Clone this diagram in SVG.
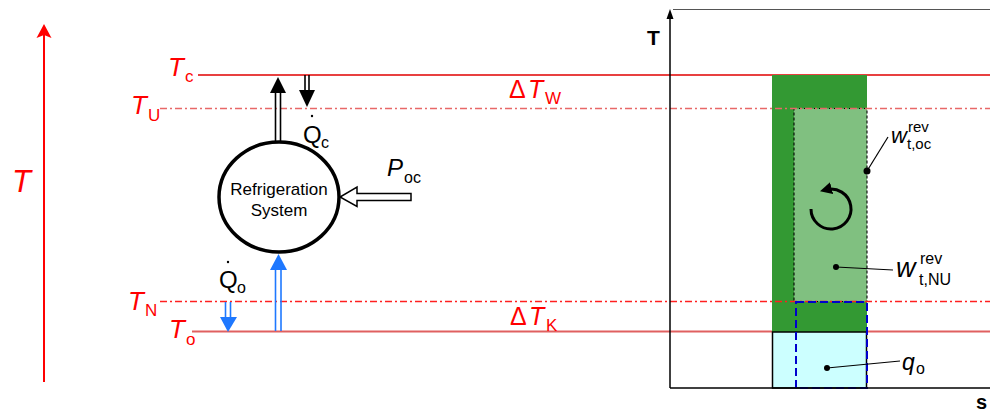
<svg xmlns="http://www.w3.org/2000/svg" width="990" height="414" viewBox="0 0 990 414">
<defs>
<style>
text{font-family:"Liberation Sans",Arial,sans-serif;}
.red{fill:#ff0000;}
.it{font-style:italic;}
.solid{stroke:#e00000;stroke-width:1.3;fill:none;}
.solid2{stroke:#e06060;stroke-width:2;fill:none;}
.dd{stroke:#ff2020;stroke-width:1.3;fill:none;stroke-dasharray:7 3 2 3;}
.dd2{stroke:#e86868;stroke-width:1.3;fill:none;stroke-dasharray:7 3 2 3;}
.shaftk{stroke:#000;stroke-width:1.6;}
.shaftb{stroke:#1e78ff;stroke-width:1.6;}
.lead{stroke:#000;stroke-width:1.2;fill:none;}
</style>
<marker id="cyc" viewBox="0 0 10 10" refX="5" refY="5" markerWidth="12" markerHeight="12" markerUnits="userSpaceOnUse" orient="auto">
<path d="M0,0 L10,5 L0,10 Z" fill="#000"/>
</marker>
</defs>
<rect width="990" height="414" fill="#fff"/>

<g id="left-axis">
<line x1="44" y1="382" x2="44" y2="34" stroke="#ff0000" stroke-width="2"/>
<path d="M44,24 L51.5,38 L44,35 L36.5,38 Z" fill="#ff0000"/>
<text x="12" y="192" font-size="31" class="red it">T</text>
</g>

<g id="levels">
<line class="solid" x1="198" y1="75" x2="990" y2="75"/>
<line class="solid2" x1="192" y1="331.5" x2="990" y2="331.5"/>
</g>

<g id="ts-diagram">
<rect x="772" y="75" width="95" height="257" fill="#339933"/>
<rect x="794" y="108.5" width="73" height="193" fill="#80c080" stroke="#000" stroke-width="1.1" stroke-dasharray="3 2"/>
<rect x="772.5" y="332" width="94" height="56" fill="#ccffff" stroke="#000" stroke-width="1.5"/>
</g>

<g id="dashdot-levels">
<line class="dd2" x1="160" y1="108.5" x2="990" y2="108.5"/>
<line class="dd" x1="160" y1="301.5" x2="990" y2="301.5"/>
</g>

<g id="ts-overlay">
<rect x="796" y="302" width="71" height="86" fill="none" stroke="#0000cc" stroke-width="2" stroke-dasharray="8 4"/>
<path d="M811,209 A20,20 0 1 0 825.8,189.7" fill="none" stroke="#000" stroke-width="3" marker-end="url(#cyc)"/>
</g>

<g id="axes">
<line x1="670" y1="388" x2="670" y2="18" stroke="#000" stroke-width="1.5"/>
<path d="M670,9 L673.5,19 L666.5,19 Z" fill="#000"/>
<line x1="673" y1="9.5" x2="990" y2="9.5" stroke="#555" stroke-width="1"/>
<line x1="670" y1="388" x2="990" y2="388" stroke="#000" stroke-width="1.5"/>
<text x="647" y="45" font-size="21" font-weight="bold">T</text>
<text x="976" y="409" font-size="20" font-weight="bold">s</text>
</g>

<g id="level-labels">
<text font-size="26" class="red"><tspan class="it" x="168" y="76">T</tspan><tspan font-size="17" x="185" y="82">c</tspan></text>
<text font-size="26" class="red"><tspan class="it" x="131" y="114">T</tspan><tspan font-size="17" x="148" y="121">U</tspan></text>
<text font-size="26" class="red"><tspan class="it" x="128" y="310">T</tspan><tspan font-size="17" x="145" y="316">N</tspan></text>
<text font-size="26" class="red"><tspan class="it" x="169" y="338">T</tspan><tspan font-size="17" x="186" y="345">o</tspan></text>
<text font-size="25" class="red"><tspan x="509" y="98">Δ</tspan><tspan class="it" x="528" y="98">T</tspan><tspan font-size="17" x="545" y="104">W</tspan></text>
<text font-size="25" class="red"><tspan x="510" y="325">Δ</tspan><tspan class="it" x="529" y="325">T</tspan><tspan font-size="17" x="546" y="331">K</tspan></text>
</g>

<g id="refrigeration-system">
<ellipse cx="279" cy="197" rx="60" ry="55" fill="#fff" stroke="#000" stroke-width="3.5"/>
<text x="279" y="195" font-size="17" text-anchor="middle">Refrigeration</text>
<text x="279" y="216" font-size="17" text-anchor="middle">System</text>
</g>

<g id="connectors">
<line class="shaftk" x1="275.5" y1="141" x2="275.5" y2="92"/>
<line class="shaftk" x1="280.5" y1="141" x2="280.5" y2="92"/>
<path d="M270,93 L286,93 L278,77 Z" fill="#000"/>
<line class="shaftk" x1="305" y1="75" x2="305" y2="91"/>
<line class="shaftk" x1="309" y1="75" x2="309" y2="91"/>
<path d="M299,90 L315,90 L307,107 Z" fill="#000"/>
<line class="shaftb" x1="275.5" y1="331" x2="275.5" y2="269"/>
<line class="shaftb" x1="281" y1="331" x2="281" y2="269"/>
<path d="M270,270 L287,270 L278.5,254 Z" fill="#1e78ff"/>
<line class="shaftb" x1="225.5" y1="302" x2="225.5" y2="318"/>
<line class="shaftb" x1="230.5" y1="302" x2="230.5" y2="318"/>
<path d="M220,317 L237,317 L228,332 Z" fill="#1e78ff"/>
<path d="M411,193.5 L357,193.5 L357,187 L340,197 L357,206.5 L357,200.5 L411,200.5 Z" fill="#fff" stroke="#000" stroke-width="1.5"/>
<line class="lead" x1="888" y1="137" x2="867" y2="171"/>
<circle cx="867" cy="171" r="3.5" fill="#000"/>
<line class="lead" x1="893" y1="270" x2="836" y2="267"/>
<circle cx="836" cy="267" r="3" fill="#000"/>
<line class="lead" x1="900" y1="361" x2="827" y2="368"/>
<circle cx="827" cy="368" r="3" fill="#000"/>
</g>

<g id="flow-labels">
<text font-size="24"><tspan x="303" y="143">Q</tspan><tspan font-size="16" x="321" y="148">c</tspan></text>
<circle cx="312" cy="116" r="1.2" fill="#000"/>
<text font-size="24"><tspan x="219" y="288">Q</tspan><tspan font-size="16" x="237" y="293">o</tspan></text>
<circle cx="228" cy="262" r="1.2" fill="#000"/>
<text font-size="24"><tspan class="it" x="387" y="176">P</tspan><tspan font-size="16" x="404" y="183">oc</tspan></text>
<text x="891" y="143" font-size="22" class="it">w</text>
<text x="908" y="132" font-size="15">rev</text>
<text x="907" y="149" font-size="15">t,oc</text>
<text x="896" y="277" font-size="27" class="it">w</text>
<text x="920" y="264" font-size="16">rev</text>
<text x="919" y="285" font-size="16">t,NU</text>
<text font-size="23"><tspan class="it" x="902" y="370">q</tspan><tspan font-size="16" x="916" y="374">o</tspan></text>
</g>
</svg>
